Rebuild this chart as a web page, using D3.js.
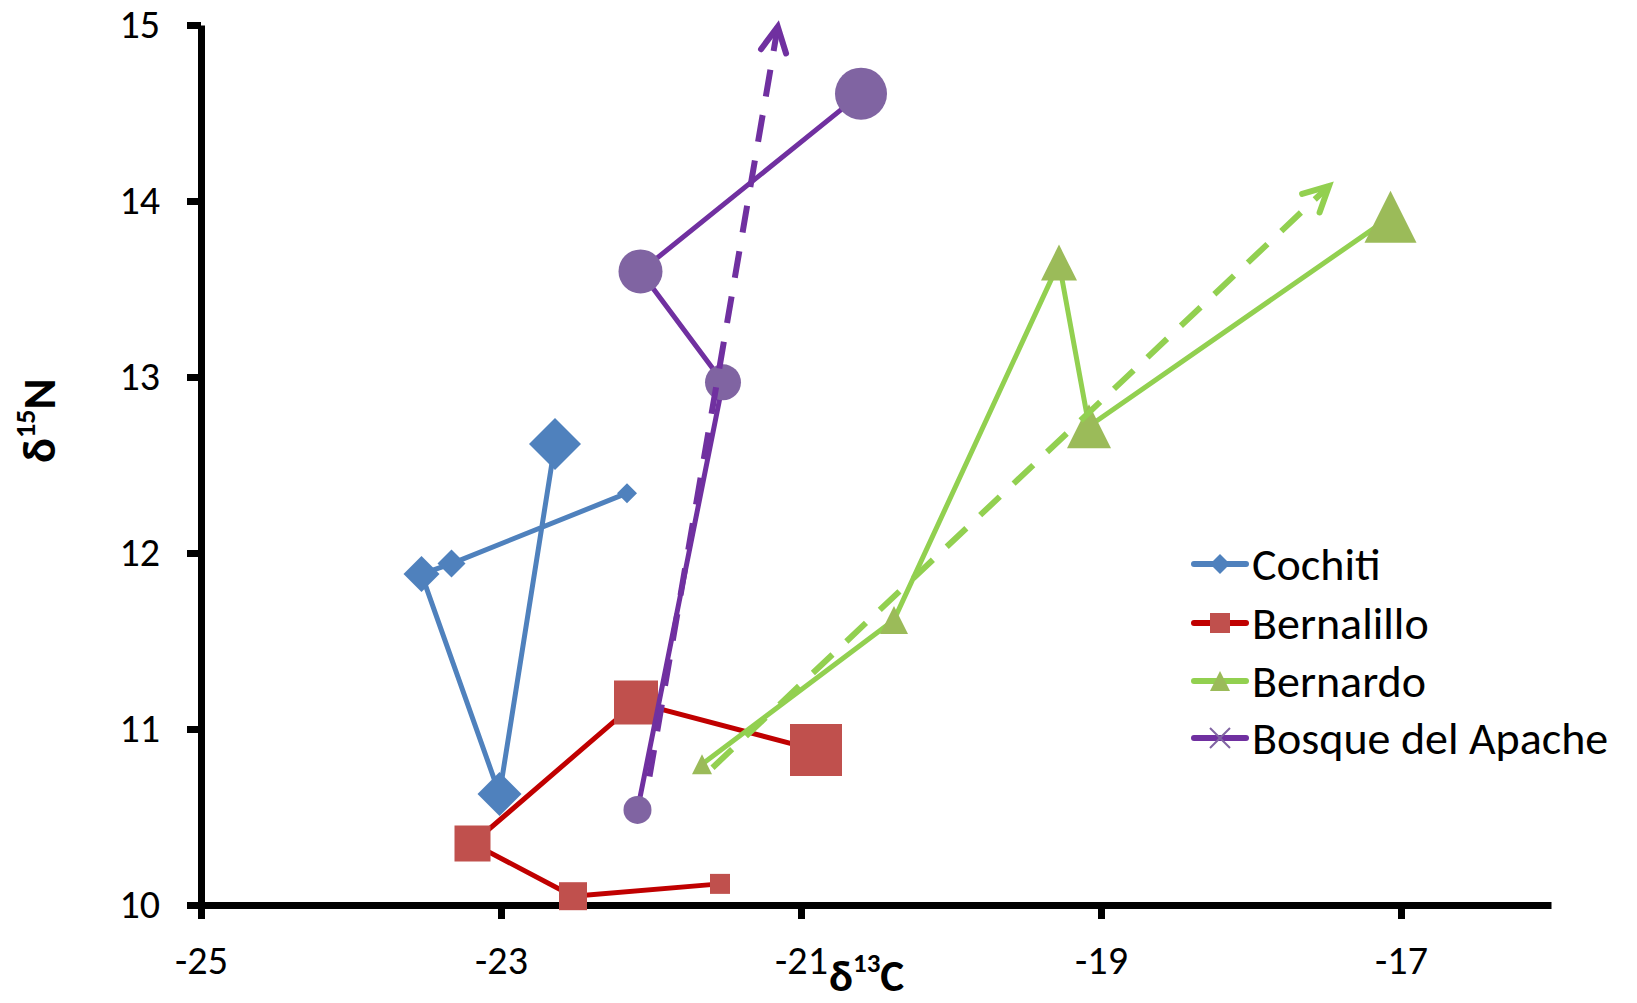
<!DOCTYPE html>
<html>
<head>
<meta charset="utf-8">
<script src="https://cdn.jsdelivr.net/npm/d3@7"></script>
<style>
  html, body { margin: 0; padding: 0; background: #fff; }
  svg { display: block; }
  text { font-family: Carlito, Calibri, Lato, sans-serif; }
</style>
</head>
<body>
<svg id="chart" width="1637" height="1003"></svg>
<script>
// ---------- data ----------
const seriesNames = ["Cochiti", "Bernalillo", "Bernardo", "Bosque del Apache"];
const cochitiX    = [-22.16, -23.33, -23.53, -23.01, -22.64];
const cochitiY    = [12.34, 11.94, 11.88, 10.63, 12.62];
const bernalilloX = [-21.54, -22.52, -23.19, -22.10, -20.90];
const bernalilloY = [10.12, 10.05, 10.35, 11.15, 10.88];
const bernardoX   = [-21.66, -20.38, -19.28, -19.08, -17.07];
const bernardoY   = [10.80, 11.62, 13.65, 12.72, 13.91];
const bosqueX     = [-22.09, -21.52, -22.07, -20.60];
const bosqueY     = [10.54, 12.97, 13.60, 14.61];
// trend arrows: [start, end] in data units
const bosqueArrowX   = [-22.01, -21.155];
const bosqueArrowY   = [10.73, 14.99];
const bernardoArrowX = [-21.59, -17.48];
const bernardoArrowY = [10.78, 14.085];
// axis ticks
const xTicks = [-25, -23, -21, -19, -17];
const yTicks = [10, 11, 12, 13, 14, 15];

// ---------- styles ----------
const markerSizes = [20, 28, 36, 44, 52];
const styles = [
  { line: "#4F81BD", fill: "#4F81BD", shape: "diamond" },
  { line: "#C00000", fill: "#C0504D", shape: "square" },
  { line: "#92D050", fill: "#9BBB59", shape: "triangle" },
  { line: "#7030A0", fill: "#8064A2", shape: "circle" }
];

const seriesData = [
  [cochitiX, cochitiY], [bernalilloX, bernalilloY], [bernardoX, bernardoY], [bosqueX, bosqueY]
].map(([xs, ys], i) => ({
  name: seriesNames[i],
  style: styles[i],
  points: xs.map((x, j) => ({ x, y: ys[j], size: markerSizes[markerSizes.length - xs.length + j] }))
}));

const svg = d3.select("#chart");
const x = d3.scaleLinear().domain([-25, -16]).range([201, 1551]);
const y = d3.scaleLinear().domain([10, 15]).range([905, 25]);

function markerPath(shape, s) {
  const h = s / 2;
  if (shape === "diamond") return `M0,${-h}L${h},0L0,${h}L${-h},0Z`;
  if (shape === "square") return `M${-h},${-h}H${h}V${h}H${-h}Z`;
  if (shape === "triangle") return `M0,${-h}L${h},${h}L${-h},${h}Z`;
  if (shape === "circle") return `M${h},0A${h},${h} 0 1,1 ${-h},0A${h},${h} 0 1,1 ${h},0Z`;
  return "";
}

// ---------- axes ----------
const yAxis = svg.append("g")
  .attr("transform", `translate(${x(-25)},0)`)
  .call(d3.axisLeft(y).tickValues(yTicks).tickSizeInner(14).tickSizeOuter(0).tickPadding(27).tickFormat(d3.format("d")));
const xAxis = svg.append("g")
  .attr("transform", `translate(0,${y(10)})`)
  .call(d3.axisBottom(x).tickValues(xTicks).tickSizeInner(14).tickSizeOuter(0).tickPadding(27).tickFormat(d => String(d)));

[yAxis, xAxis].forEach(g => {
  g.select(".domain").attr("stroke", "#000").attr("stroke-width", 7);
  g.selectAll(".tick line").attr("stroke", "#000").attr("stroke-width", 7);
  g.selectAll(".tick text")
    .attr("fill", "#000")
    .style("font-family", "Carlito, Calibri, Lato, sans-serif")
    .style("font-size", "40px");
});

// ---------- series ----------
const line = d3.line().x(d => x(d.x)).y(d => y(d.y));
seriesData.forEach(s => {
  const g = svg.append("g");
  g.append("path")
    .attr("d", line(s.points))
    .attr("fill", "none")
    .attr("stroke", s.style.line)
    .attr("stroke-width", 5)
    .attr("stroke-linejoin", "round")
    .attr("stroke-linecap", "round");
  g.selectAll("path.m").data(s.points).enter().append("path")
    .attr("class", "m")
    .attr("transform", d => `translate(${x(d.x)},${y(d.y)})`)
    .attr("d", d => markerPath(s.style.shape, d.size))
    .attr("fill", s.style.fill);
});

// ---------- dashed trend arrows ----------
function arrow(xs, ys, color) {
  const x0 = x(xs[0]), y0 = y(ys[0]), x1 = x(xs[1]), y1 = y(ys[1]);
  svg.append("line")
    .attr("x1", x0).attr("y1", y0).attr("x2", x1).attr("y2", y1)
    .attr("stroke", color).attr("stroke-width", 6)
    .attr("stroke-dasharray", "27,19");
  const ang = Math.atan2(y0 - y1, x0 - x1);
  const L = 28, a = 27 * Math.PI / 180;
  const p1 = [x1 + L * Math.cos(ang + a), y1 + L * Math.sin(ang + a)];
  const p2 = [x1 + L * Math.cos(ang - a), y1 + L * Math.sin(ang - a)];
  svg.append("path")
    .attr("d", `M${p1[0]},${p1[1]}L${x1},${y1}L${p2[0]},${p2[1]}`)
    .attr("fill", "none").attr("stroke", color).attr("stroke-width", 6)
    .attr("stroke-linecap", "round").attr("stroke-linejoin", "miter");
}
arrow(bosqueArrowX, bosqueArrowY, "#7030A0");
arrow(bernardoArrowX, bernardoArrowY, "#92D050");

// ---------- axis titles ----------
const xt = svg.append("text")
  .attr("x", 829).attr("y", 991)
  .attr("fill", "#000").style("font-size", "45px").style("font-weight", "bold");
xt.append("tspan").text("δ");
xt.append("tspan").attr("dy", -19).style("font-size", "27px").text("13");
xt.append("tspan").attr("dy", 19).text("C");

const yt = svg.append("text")
  .attr("transform", "translate(55,463) rotate(-90)")
  .attr("fill", "#000").style("font-size", "47px").style("font-weight", "bold");
yt.append("tspan").text("δ");
yt.append("tspan").attr("dy", -20).style("font-size", "28px").text("15");
yt.append("tspan").attr("dy", 20).text("N");

// ---------- legend ----------
const legendRows = [564, 623, 681, 738];
const lg = svg.append("g");
seriesData.forEach((s, i) => {
  const ry = legendRows[i];
  lg.append("line")
    .attr("x1", 1194).attr("x2", 1246).attr("y1", ry).attr("y2", ry)
    .attr("stroke", s.style.line).attr("stroke-width", 6).attr("stroke-linecap", "round");
  if (i < 3) {
    lg.append("path")
      .attr("transform", `translate(1220,${ry})`)
      .attr("d", markerPath(s.style.shape, 20))
      .attr("fill", s.style.fill);
  } else {
    lg.append("path")
      .attr("transform", `translate(1220,${ry})`)
      .attr("d", "M-10,-10L10,10M-10,10L10,-10")
      .attr("stroke", s.style.fill).attr("stroke-width", 2).attr("fill", "none");
  }
  lg.append("text")
    .attr("x", 1252).attr("y", ry + 16)
    .attr("fill", "#000").style("font-size", "46px")
    .text(s.name);
});
</script>
</body>
</html>
